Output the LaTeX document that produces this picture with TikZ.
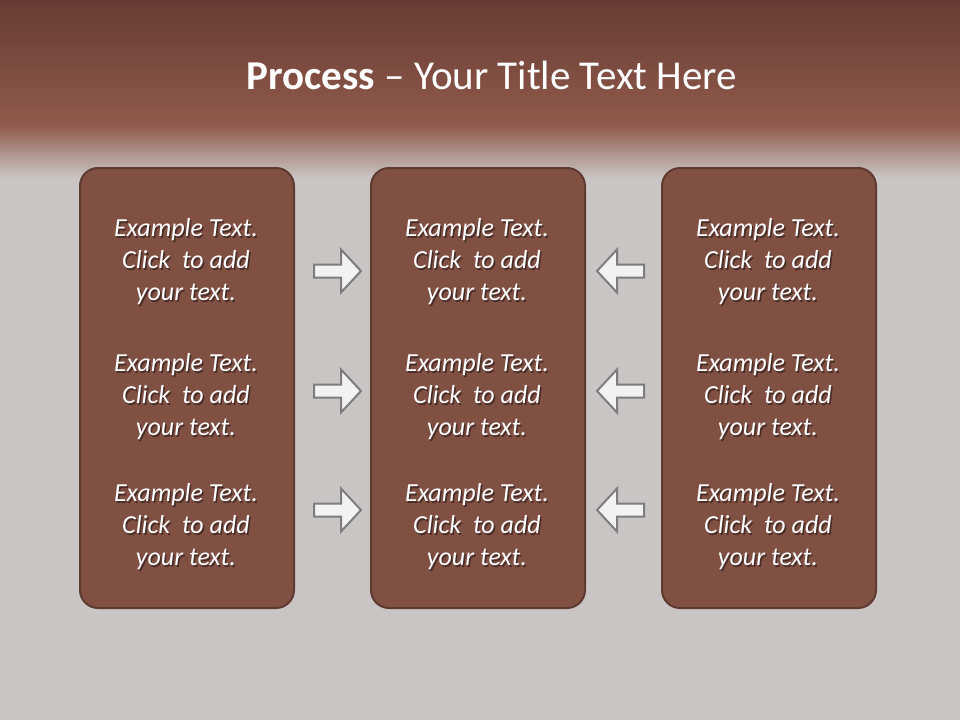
\documentclass[tikz,border=0pt]{standalone}
\usepackage{fontspec}
\setmainfont{Carlito}
\definecolor{bandtop}{RGB}{102,60,50}
\definecolor{bandmid}{RGB}{145,90,76}
\definecolor{bggray}{RGB}{201,197,196}
\definecolor{boxfill}{RGB}{128,80,67}
\definecolor{boxline}{RGB}{94,58,48}
\definecolor{textshadow}{RGB}{72,45,38}
\definecolor{arrowfill}{RGB}{242,242,242}
\definecolor{arrowline}{RGB}{125,125,125}
\newcommand{\shl}[1]{\rlap{\kern1.5pt\raisebox{-2pt}{\textcolor{textshadow}{#1}}}#1}
\tikzset{
  panel/.style={draw=boxline, line width=2pt, fill=boxfill, rounded corners=18pt,
    minimum width=214pt, minimum height=440pt, inner sep=0pt},
  itemtext/.style={text=white, align=center, font=\fontsize{26}{32}\selectfont\itshape},
  blockarrow/.style={draw=arrowline, line width=2pt, fill=arrowfill, line join=miter},
}
\newcommand{\rightblock}[2]{% name, position
  \coordinate (#1) at #2;
  \draw[blockarrow] ([shift={(-23,-6.5)}]#1) -- ([shift={(4,-6.5)}]#1) -- ([shift={(4,-21.5)}]#1)
    -- ([shift={(24,0)}]#1) -- ([shift={(4,21.5)}]#1) -- ([shift={(4,6.5)}]#1)
    -- ([shift={(-23,6.5)}]#1) -- cycle;}
\newcommand{\leftblock}[2]{% name, position
  \coordinate (#1) at #2;
  \draw[blockarrow] ([shift={(23,-6.5)}]#1) -- ([shift={(-4,-6.5)}]#1) -- ([shift={(-4,-21.5)}]#1)
    -- ([shift={(-24,0)}]#1) -- ([shift={(-4,21.5)}]#1) -- ([shift={(-4,6.5)}]#1)
    -- ([shift={(23,6.5)}]#1) -- cycle;}
\begin{document}
\begin{tikzpicture}[x=1pt,y=-1pt]
\useasboundingbox (0,0) rectangle (960,720);
% background
\fill[bggray] (0,0) rectangle (960,720);
\shade[top color=bandtop, bottom color=bandmid] (0,0) rectangle (960,126);
\shade[top color=bandmid, bottom color=bggray] (0,125) rectangle (960,178);
% title
\node (title) at (492,75) {\color{white}\fontsize{41}{48}\selectfont\textbf{Process} – Your Title Text Here};
% panels
\node[panel] (left) at (187,388) {};
\node[panel] (mid) at (478,388) {};
\node[panel] (right) at (769,388) {};
% texts
\foreach \cx/\nm in {186/l,477/m,768/r}{
  \foreach \cy/\k in {263/1,398/2,528/3}{
    \node[itemtext] (t\nm\k) at (\cx,\cy) {\shl{Example Text.}\\\shl{Click~~to add}\\\shl{your text.}};
  }
}
% arrows
\rightblock{a1}{(337,271)}
\rightblock{a2}{(337,391)}
\rightblock{a3}{(337,510)}
\leftblock{b1}{(621,271)}
\leftblock{b2}{(621,391)}
\leftblock{b3}{(621,510)}
\end{tikzpicture}
\end{document}
